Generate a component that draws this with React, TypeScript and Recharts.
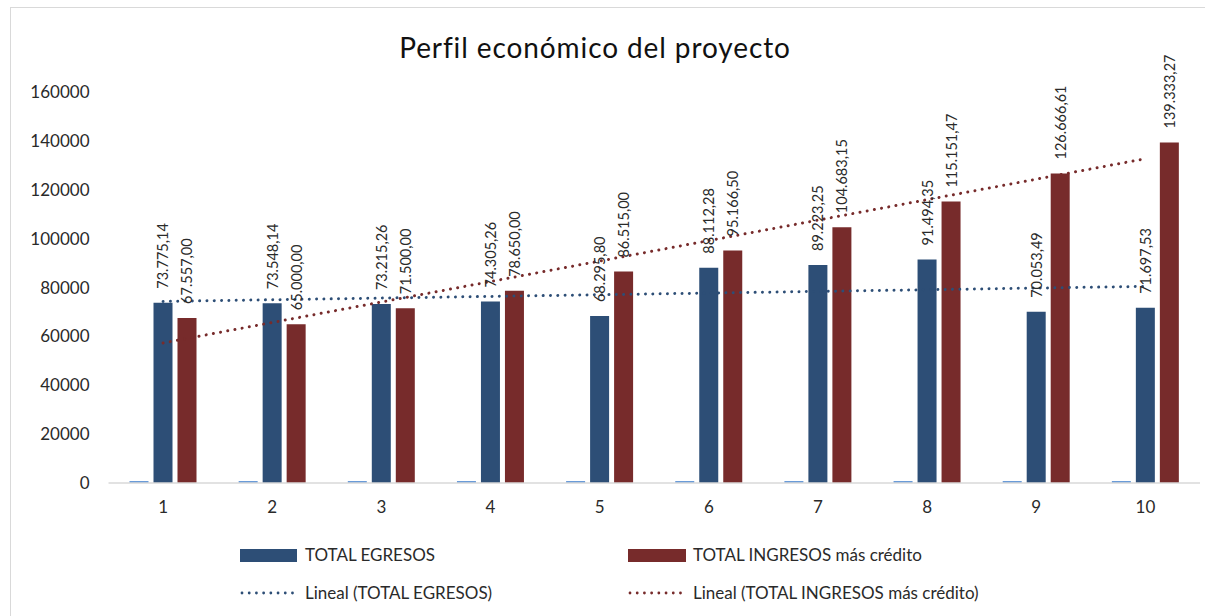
import React from "react";
import { ComposedChart, Bar, Line, XAxis, YAxis, LabelList } from "recharts";

const categories = ["1", "2", "3", "4", "5", "6", "7", "8", "9", "10"];
const yearSeries = [1, 2, 3, 4, 5, 6, 7, 8, 9, 10];
const totalEgresos = [73775.14, 73548.14, 73215.26, 74305.26, 68295.8, 88112.28, 89223.25, 91494.35, 70053.49, 71697.53];
const totalIngresos = [67557.0, 65000.0, 71500.0, 78650.0, 86515.0, 95166.5, 104683.15, 115151.47, 126666.61, 139333.27];
// trend line end points (first and last category)
const trendEgresos = [74300, null, null, null, null, null, null, null, null, 80450];
const trendIngresos = [57300, null, null, null, null, null, null, null, null, 132700];
const yTicks = [0, 20000, 40000, 60000, 80000, 100000, 120000, 140000, 160000];

const data = categories.map((c, i) => ({
  cat: c,
  anio: yearSeries[i],
  egresos: totalEgresos[i],
  ingresos: totalIngresos[i],
  trendE: trendEgresos[i],
  trendI: trendIngresos[i],
}));

const BLUE = "#2D4E76";
const RED = "#772B2B";
const LIGHT = "#6A9BD8";
const FONT = "Lato, 'Noto Sans', sans-serif";

const fmt = (v: number) => {
  const [int, dec] = v.toFixed(2).split(".");
  return int.replace(/\B(?=(\d{3})+(?!\d))/g, ".") + "," + dec;
};

const renderLabel = (props: any) => {
  const { x, y, width, value } = props;
  const cx = Number(x) + Number(width) / 2;
  const ty = Number(y) - 14;
  return (
    <text
      x={cx}
      y={ty}
      transform={`rotate(-90 ${cx} ${ty})`}
      textAnchor="start"
      dominantBaseline="central"
      fontSize={14.5}
      fontFamily={FONT}
      fill="#2a2a2a"
    >
      {fmt(Number(value))}
    </text>
  );
};

const legendText: React.CSSProperties = {
  position: "absolute",
  fontSize: 17,
  fontFamily: FONT,
  color: "#2a2a2a",
  whiteSpace: "nowrap",
  lineHeight: "20px",
};

const DotLine = ({ color }: { color: string }) => (
  <svg width={58} height={6} style={{ position: "absolute" }}>
    <line x1={2} y1={3} x2={54} y2={3} stroke={color} strokeWidth={2.8} strokeDasharray="0.01 7.2" strokeLinecap="round" />
  </svg>
);

export default function App() {
  return (
    <div style={{ position: "absolute", left: 0, top: 0, width: 1205, height: 616, background: "#fff", overflow: "hidden" }}>
      <div style={{ position: "absolute", left: 10, top: 7, width: 1200, height: 640, border: "1px solid #d9d9d9", boxSizing: "border-box" }} />
      <div style={{ position: "absolute", left: 0, top: 30, width: 1190, textAlign: "center", fontSize: 28, letterSpacing: 0.9, fontFamily: FONT, color: "#111" }}>
        Perfil económico del proyecto
      </div>
      <div style={{ position: "absolute", left: 0, top: 0 }}>
        <ComposedChart
          width={1205}
          height={616}
          data={data}
          margin={{ top: 92, right: 5, bottom: 103, left: 0 }}
          barSize={19}
          barGap={5}
        >
          <XAxis
            dataKey="cat"
            height={30}
            tickLine={false}
            tickSize={0}
            tickMargin={18}
            axisLine={{ stroke: "#d9d9d9", strokeWidth: 1.5 }}
            tick={{ fontSize: 17, fontFamily: FONT, fill: "#2a2a2a" }}
          />
          <YAxis
            width={108.5}
            domain={[0, 160000]}
            ticks={yTicks}
            interval={0}
            tickLine={false}
            tickSize={0}
            tickMargin={19}
            axisLine={false}
            tick={{ fontSize: 17, fontFamily: FONT, fill: "#2a2a2a" }}
          />
          <Bar dataKey="anio" fill={LIGHT} minPointSize={2} isAnimationActive={false} />
          <Bar dataKey="egresos" fill={BLUE} isAnimationActive={false}>
            <LabelList dataKey="egresos" content={renderLabel} />
          </Bar>
          <Bar dataKey="ingresos" fill={RED} isAnimationActive={false}>
            <LabelList dataKey="ingresos" content={renderLabel} />
          </Bar>
          <Line
            dataKey="trendE"
            stroke={BLUE}
            strokeWidth={3}
            strokeDasharray="0.01 7.3"
            strokeLinecap="round"
            dot={false}
            activeDot={false}
            connectNulls
            isAnimationActive={false}
          />
          <Line
            dataKey="trendI"
            stroke={RED}
            strokeWidth={3}
            strokeDasharray="0.01 7.3"
            strokeLinecap="round"
            dot={false}
            activeDot={false}
            connectNulls
            isAnimationActive={false}
          />
        </ComposedChart>
      </div>
      {/* legend */}
      <div style={{ position: "absolute", left: 240, top: 549, width: 57, height: 13, background: BLUE }} />
      <div style={{ ...legendText, left: 305, top: 545 }}>TOTAL EGRESOS</div>
      <div style={{ position: "absolute", left: 628, top: 549, width: 58, height: 13, background: RED }} />
      <div style={{ ...legendText, left: 693, top: 545 }}>TOTAL INGRESOS más crédito</div>
      <div style={{ position: "absolute", left: 240, top: 590 }}><DotLine color={BLUE} /></div>
      <div style={{ ...legendText, left: 305, top: 583 }}>Lineal (TOTAL EGRESOS)</div>
      <div style={{ position: "absolute", left: 628, top: 590 }}><DotLine color={RED} /></div>
      <div style={{ ...legendText, left: 693, top: 583 }}>Lineal (TOTAL INGRESOS más crédito)</div>
    </div>
  );
}
